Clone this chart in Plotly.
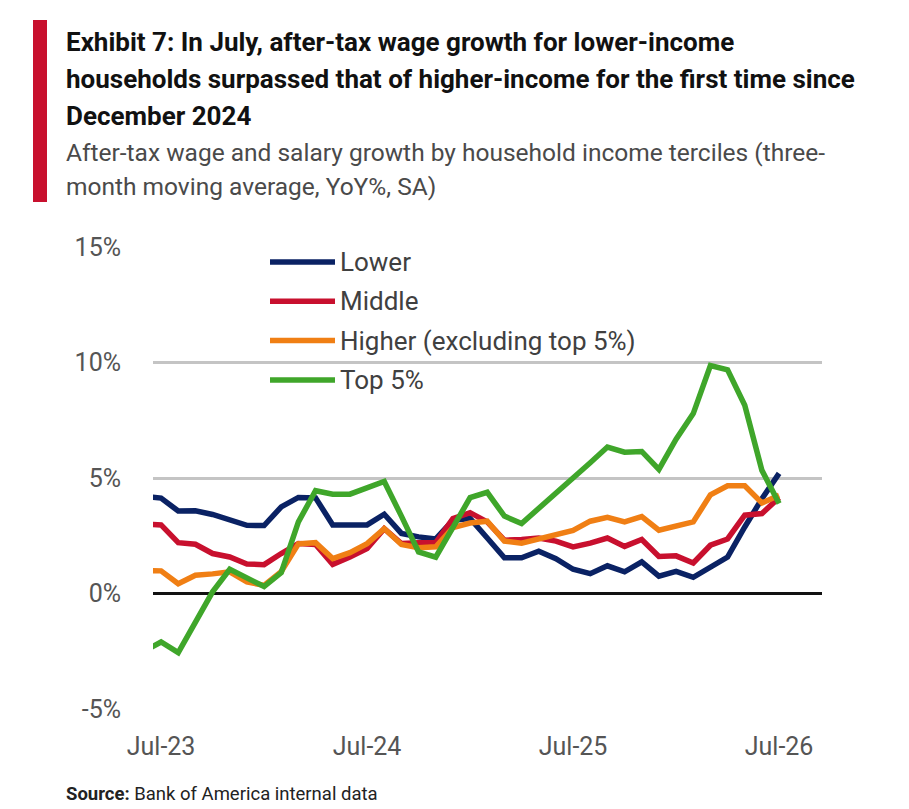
import pandas as pd
import plotly.graph_objects as go

# monthly categories, Jun-23 .. Jul-26 (the Jun-23 point sits just off the left edge)
months = [d.strftime("%b-%y") for d in pd.date_range("2023-06-01", "2026-07-01", freq="MS")]
tick_labels = ["Jul-23", "Jul-24", "Jul-25", "Jul-26"]

# three-month moving average, YoY %
lower = [4.2, 4.13, 3.57, 3.58, 3.42, 3.2, 2.95, 2.94, 3.75, 4.16, 4.14, 2.97, 2.97,
         2.97, 3.43, 2.6, 2.45, 2.36, 3.17, 3.25, 2.4, 1.55, 1.55, 1.83, 1.51, 1.05,
         0.86, 1.2, 0.94, 1.37, 0.75, 0.96, 0.7, 1.15, 1.58, 2.88, 4.1, 5.2]
middle = [3.0, 2.97, 2.2, 2.13, 1.73, 1.58, 1.28, 1.25, 1.73, 2.16, 2.12, 1.26, 1.58,
          1.95, 2.81, 2.16, 2.2, 2.2, 3.24, 3.5, 3.1, 2.31, 2.34, 2.4, 2.27, 2.02,
          2.18, 2.4, 2.04, 2.34, 1.6, 1.63, 1.32, 2.09, 2.36, 3.39, 3.46, 4.15]
higher = [1.0, 0.98, 0.42, 0.79, 0.85, 0.94, 0.5, 0.35, 0.95, 2.15, 2.2, 1.51, 1.77,
          2.16, 2.81, 2.12, 1.98, 2.02, 2.85, 3.05, 3.13, 2.27, 2.18, 2.36, 2.5, 2.73,
          3.13, 3.3, 3.1, 3.33, 2.74, 2.91, 3.1, 4.27, 4.66, 4.66, 3.92, 4.25]
top5 = [-2.5, -2.1, -2.56, -1.2, 0.07, 1.05, 0.65, 0.3, 0.9, 3.1, 4.45, 4.3, 4.3,
        4.55, 4.85, 3.35, 1.8, 1.57, 2.85, 4.15, 4.38, 3.35, 3.03, 3.67, 4.32, 5.0,
        5.66, 6.34, 6.12, 6.15, 5.37, 6.68, 7.79, 9.87, 9.68, 8.15, 5.33, 3.9]

series_names = ["Lower", "Middle", "Higher (excluding top 5%)", "Top 5%"]
series_colors = ["#0A2264", "#C8102E", "#F07F14", "#3FA62A"]

title_lines = [
    "Exhibit 7: In July, after-tax wage growth for lower-income",
    "households surpassed that of higher-income for the first time since",
    "December 2024",
]
subtitle_lines = [
    "After-tax wage and salary growth by household income terciles (three-",
    "month moving average, YoY%, SA)",
]

FONT = "Roboto, sans-serif"
OFF = 8  # page body margin: the plot div starts 8px in from the window corner
W, H = 909 - OFF, 809 - OFF
L, R, T, B = 153 - OFF, 87, 247 - OFF, 100


# window pixel -> paper helpers for the text / legend placed outside the axes
def px(x):
    return (x - OFF - L) / (W - L - R)


def py(y):
    return (H - B - (y - OFF)) / (H - T - B)


fig = go.Figure()
for name, vals, col in zip(series_names, [lower, middle, higher, top5], series_colors):
    fig.add_trace(go.Scatter(x=months, y=vals, mode="lines", name=name,
                             line=dict(color=col, width=5.5), showlegend=False))

shapes = [dict(type="rect", xref="paper", yref="paper", x0=px(33), x1=px(47),
               y0=py(20), y1=py(202), fillcolor="#C8102E", line=dict(width=0))]
annotations = []

# legend drawn by hand so the swatch lines are long like the original
for i, (name, col) in enumerate(zip(series_names, series_colors)):
    yy = py(262 + i * 39.3)
    shapes.append(dict(type="line", xref="paper", yref="paper", x0=px(270), x1=px(335),
                       y0=yy, y1=yy, line=dict(color=col, width=5.5)))
    annotations.append(dict(xref="paper", yref="paper", x=px(338), y=yy, text=name,
                            showarrow=False, xanchor="left", yanchor="middle",
                            font=dict(family=FONT, size=26, color="#404040")))

for i, t in enumerate(title_lines):
    annotations.append(dict(xref="paper", yref="paper", x=px(64), y=py(42 + i * 37),
                            text="<b>" + t + "</b>", showarrow=False,
                            xanchor="left", yanchor="middle",
                            font=dict(family=FONT, size=26, color="#111111")))
for i, t in enumerate(subtitle_lines):
    annotations.append(dict(xref="paper", yref="paper", x=px(64), y=py(153 + i * 34),
                            text=t, showarrow=False, xanchor="left", yanchor="middle",
                            font=dict(family=FONT, size=24.5, color="#4a4a4a")))
annotations.append(dict(xref="paper", yref="paper", x=px(64), y=py(794),
                        text="<b>Source:</b> Bank of America internal data",
                        showarrow=False, xanchor="left", yanchor="middle",
                        font=dict(family=FONT, size=18.5, color="#222222")))

fig.update_layout(
    width=W, height=H,
    margin=dict(l=L, r=R, t=T, b=B),
    paper_bgcolor="white", plot_bgcolor="white",
    shapes=shapes, annotations=annotations,
    font=dict(family=FONT, color="#555555"),
)
fig.update_xaxes(type="category", range=[0.53, 39.5], tickmode="array",
                 tickvals=tick_labels, ticktext=tick_labels,
                 showgrid=False, showline=False, zeroline=False,
                 ticks="outside", ticklen=15, tickcolor="rgba(0,0,0,0)",
                 tickfont=dict(family=FONT, size=25, color="#555555"))
fig.update_yaxes(range=[-5, 15], tickvals=[-5, 0, 5, 10, 15],
                 ticktext=["-5%", "0%", "5%", "10%", "15%"],
                 showgrid=True, gridcolor="#C4C4C4", gridwidth=2.5,
                 zeroline=True, zerolinecolor="#111111", zerolinewidth=2.5,
                 showline=False, ticks="outside", ticklen=26,
                 tickcolor="rgba(0,0,0,0)",
                 tickfont=dict(family=FONT, size=25, color="#555555"))

fig.write_html("out.html")
